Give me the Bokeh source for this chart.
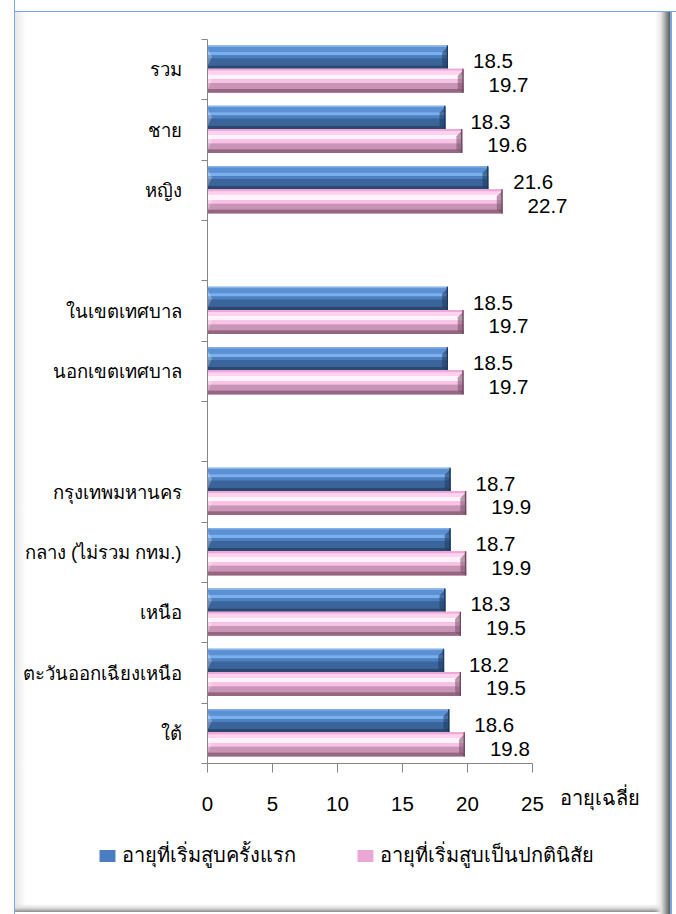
from bokeh.plotting import figure
from bokeh.models import (Range1d, FixedTicker, Legend, LegendItem,
                          ColumnDataSource, Label)
from bokeh.embed import file_html
from bokeh.resources import INLINE
from bokeh.core.properties import value

# ---------------- data ----------------
categories = ["รวม", "ชาย", "หญิง", "",
              "ในเขตเทศบาล", "นอกเขตเทศบาล", "",
              "กรุงเทพมหานคร", "กลาง (ไม่รวม กทม.)", "เหนือ",
              "ตะวันออกเฉียงเหนือ", "ใต้"]
first_smoke_age = [18.5, 18.3, 21.6, None, 18.5, 18.5, None,
                   18.7, 18.7, 18.3, 18.2, 18.6]
regular_smoke_age = [19.7, 19.6, 22.7, None, 19.7, 19.7, None,
                     19.9, 19.9, 19.5, 19.5, 19.8]
series_names = ["อายุที่เริ่มสูบครั้งแรก", "อายุที่เริ่มสูบเป็นปกตินิสัย"]
x_ticks = [0, 5, 10, 15, 20, 25]
x_title = "อายุเฉลี่ย"

# ---------------- style / geometry ----------------
FONT = "Tahoma, 'Liberation Sans', sans-serif"
NUM_FS = "20.5px"
CAT_FS = "18.5px"
LEG_FS = "20px"
n = len(categories)
W, H = 676, 914
AX_X, AX_TOP = 207, 39          # canvas px of x=0 and of the top category edge
X_PX = 13.0                     # px per year
ROW_PX = 724 / n                # px per category row
AXIS_GREY = "#868686"
FRAME_BLUE = "#7ba7dc"

x_range = Range1d(-AX_X / X_PX, (W - AX_X) / X_PX)
y_range = Range1d(-0.5 + (H - AX_TOP) / ROW_PX, -0.5 - AX_TOP / ROW_PX)

p = figure(width=W, height=H, output_backend="svg", toolbar_location=None,
           title=None, x_range=x_range, y_range=y_range,
           min_border=0, min_border_left=0, min_border_right=0,
           min_border_top=0, min_border_bottom=0)
p.outline_line_color = None
p.background_fill_alpha = 0
p.border_fill_alpha = 0
p.xgrid.visible = False
p.ygrid.visible = False

bg_layers = [
    # white margin + blue frame line on the left
    f"linear-gradient(to right, #ffffff 0px, #ffffff 14px, {FRAME_BLUE} 14px, "
    f"{FRAME_BLUE} 15px, rgba(255,255,255,0) 15px)",
    # white margin + blue frame line on the top
    f"linear-gradient(to bottom, #ffffff 0px, #ffffff 11px, {FRAME_BLUE} 11px, "
    f"{FRAME_BLUE} 12px, rgba(255,255,255,0) 12px)",
    # shadow + frame line on the right
    "linear-gradient(to right, rgba(255,255,255,0) 655px, #e6e6e6 661px, "
    f"#a9a9a9 665px, #5a5a5a 670px, {FRAME_BLUE} 670px, {FRAME_BLUE} 672px, "
    "#ffffff 672px, #ffffff 676px)",
    # shadow at the bottom
    "linear-gradient(to bottom, rgba(255,255,255,0) 904px, #dedede 908px, "
    "#8c8c8c 912px, #ffffff 912px, #ffffff 914px)",
    # soft shading inside the left edge
    "linear-gradient(to right, rgba(255,255,255,0) 15px, #e8e8e8 15px, "
    "#ffffff 26px)",
]
p.styles = {"background": ", ".join(bg_layers) + ", #ffffff"}

# ---------------- bars ----------------
BLUE_TOP, BLUE_BOT = -0.40, -0.017
PINK_TOP, PINK_BOT = -0.017, 0.383
blue_stripes = [(0.00, 0.07, "#8ab6ea"), (0.07, 0.28, "#5b90d4"),
                (0.28, 0.42, "#7cb0ec"), (0.42, 0.55, "#4d80c0"),
                (0.55, 0.86, "#3b649a"), (0.86, 1.00, "#2a4870")]
pink_stripes = [(0.00, 0.08, "#eeaad6"), (0.08, 0.24, "#ffd2ef"),
                (0.24, 0.44, "#fff3fb"), (0.44, 0.60, "#f7c2e4"),
                (0.60, 0.84, "#c895b6"), (0.84, 1.00, "#94667f")]


def draw_series(vals, top, bot, base_color, stripes, edge_color, bevel_color):
    idx = [i for i, v in enumerate(vals) if v is not None]
    v = [vals[i] for i in idx]
    h = bot - top
    src = ColumnDataSource(dict(y=[i + top + h / 2 for i in idx], right=v,
                                left=[0] * len(v)))
    base = p.hbar(y="y", height=h, left="left", right="right", source=src,
                  fill_color=base_color, line_color=None)
    for f0, f1, col in stripes:
        p.hbar(y=[i + top + (f0 + f1) / 2 * h for i in idx],
               height=(f1 - f0) * h, left=0, right=v,
               fill_color=col, line_color=None)
    # bevel at the right end
    p.patches(xs=[[x - 0.45, x, x, x - 0.45] for x in v],
              ys=[[i + top + 0.3 * h, i + top + 0.05 * h, i + bot,
                   i + bot - 0.15 * h] for i in idx],
              fill_color=bevel_color, fill_alpha=0.55, line_color=None)
    p.hbar(y=[i + top + h / 2 for i in idx], height=h,
           left=[x - 0.1 for x in v], right=v,
           fill_color=edge_color, line_color=None)
    # bevel at the left end
    p.patches(xs=[[0, 0.35, 0] for _ in v],
              ys=[[i + top + 0.1 * h, i + top + 0.5 * h, i + bot - 0.1 * h]
                  for i in idx],
              fill_color="white", fill_alpha=0.25, line_color=None)
    # value labels
    p.text(x=v, y=[i + top + h / 2 + 0.07 for i in idx],
           text=[f"{x:.1f}" for x in v], x_offset=25,
           text_align="left", text_baseline="middle",
           text_font=value(FONT), text_font_size=NUM_FS, text_color="black")
    return base


blue_r = draw_series(first_smoke_age, BLUE_TOP, BLUE_BOT, "#4a7ec0",
                     blue_stripes, "#1f3a5e", "#1f3a5e")
pink_r = draw_series(regular_smoke_age, PINK_TOP, PINK_BOT, "#eaa6d4",
                     pink_stripes, "#6e4a60", "#7a4f6a")

# ---------------- axes (drawn at fixed data locations) ----------------
yax = p.yaxis[0]
yax.fixed_location = 0
yax.bounds = (-0.5, n - 0.5)
yax.ticker = FixedTicker(ticks=[i for i, c in enumerate(categories) if c],
                         minor_ticks=[i - 0.5 for i in range(n + 1)])
yax.major_label_overrides = {i: c for i, c in enumerate(categories) if c}
yax.major_tick_out = 0
yax.major_tick_in = 0
yax.minor_tick_out = 6
yax.minor_tick_in = 0
yax.minor_tick_line_color = AXIS_GREY
yax.axis_line_color = AXIS_GREY
yax.major_label_standoff = 20
yax.major_label_text_font = FONT
yax.major_label_text_font_size = CAT_FS
yax.major_label_text_color = "black"

xax = p.xaxis[0]
xax.fixed_location = n - 0.5
xax.bounds = (x_ticks[0], x_ticks[-1])
xax.ticker = FixedTicker(ticks=x_ticks, minor_ticks=[])
xax.major_tick_out = 9
xax.major_tick_in = 0
xax.major_tick_line_color = AXIS_GREY
xax.axis_line_color = AXIS_GREY
xax.major_label_standoff = 24
xax.major_label_text_font = FONT
xax.major_label_text_font_size = NUM_FS
xax.major_label_text_color = "black"

# axis title to the right of the last tick label
p.add_layout(Label(x=x_ticks[-1] + 2.1, y=n - 0.5 + 34 / ROW_PX,
                   text=x_title, text_font=FONT, text_font_size=LEG_FS,
                   text_color="black", text_baseline="middle",
                   text_align="left"))

legend = Legend(items=[LegendItem(label=series_names[0], renderers=[blue_r]),
                       LegendItem(label=series_names[1], renderers=[pink_r])],
                orientation="horizontal", location=(97, 43),
                glyph_width=20, glyph_height=15, label_standoff=5, spacing=59,
                padding=0, margin=0, border_line_color=None,
                background_fill_alpha=0,
                label_text_font=FONT, label_text_font_size=LEG_FS,
                label_text_color="black")
p.add_layout(legend, "center")

open("out.html", "w").write(file_html(p, INLINE))
